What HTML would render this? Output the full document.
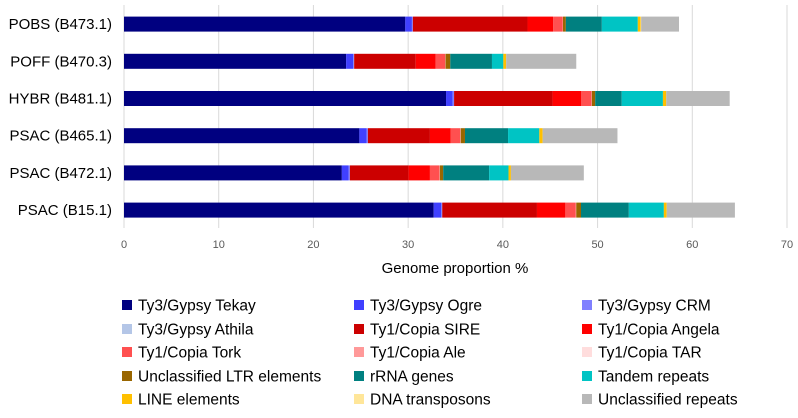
<!DOCTYPE html>
<html><head><meta charset="utf-8"><style>
body{margin:0;background:#fff;font-family:"Liberation Sans",sans-serif;}
svg text{font-family:"Liberation Sans",sans-serif;}
</style></head><body>
<svg id="chart" width="798" height="413" xmlns="http://www.w3.org/2000/svg"></svg>
<script>
const categories=["POBS (B473.1)","POFF (B470.3)","HYBR (B481.1)","PSAC (B465.1)","PSAC (B472.1)","PSAC (B15.1)"];
const seriesNames=["Ty3/Gypsy Tekay","Ty3/Gypsy Ogre","Ty3/Gypsy CRM","Ty3/Gypsy Athila","Ty1/Copia SIRE","Ty1/Copia Angela","Ty1/Copia Tork","Ty1/Copia Ale","Ty1/Copia TAR","Unclassified LTR elements","rRNA genes","Tandem repeats","LINE elements","DNA transposons","Unclassified repeats"];
const colors=["#000080","#4040ff","#8080ff","#b4c6e7","#cc0000","#ff0000","#ff5050","#ff9999","#ffdddd","#996600","#008080","#00c4c4","#ffc000","#ffe699","#b8b8b8"];
const tekay=[29.7,23.45,34.0,24.85,23.0,32.7];
const ogre=[0.7,0.75,0.7,0.75,0.7,0.8];
const crm=[0.1,0.1,0.15,0.15,0.15,0.1];
const athila=[0,0,0,0,0,0];
const sire=[12.1,6.5,10.4,6.55,6.2,10.0];
const angela=[2.7,2.1,3.0,2.2,2.25,3.0];
const tork=[1.0,1.0,1.1,1.0,1.0,1.1];
const ale=[0.05,0.05,0.05,0.05,0.05,0.05];
const tar=[0,0,0,0,0,0];
const ltr=[0.3,0.5,0.35,0.45,0.35,0.5];
const rrna=[3.8,4.4,2.8,4.55,4.85,5.05];
const tandem=[3.8,1.2,4.35,3.3,2.05,3.7];
const line=[0.3,0.3,0.35,0.35,0.25,0.3];
const dna=[0.05,0,0,0,0,0];
const unclass=[4.0,7.4,6.7,7.9,7.7,7.2];
const xTicks=[0,10,20,30,40,50,60,70];
const series=[tekay,ogre,crm,athila,sire,angela,tork,ale,tar,ltr,rrna,tandem,line,dna,unclass];

const svg=document.getElementById('chart');
const NS="http://www.w3.org/2000/svg";
const x0=124,x1=787,xmax=70;
const xs=v=>x0+(v/xmax)*(x1-x0);
const yTop=5,band=37.2;
const yc=i=>yTop+band*(i+0.5)+0.5;
function mk(t,a){const e=document.createElementNS(NS,t);for(const k in a)e.setAttribute(k,a[k]);svg.appendChild(e);return e;}
xTicks.forEach(t=>{
 const g=mk('line',{x1:xs(t),x2:xs(t),y1:yTop,y2:228,stroke:'#d9d9d9','stroke-width':1});
 
 
 const tx=mk('text',{x:xs(t),y:248,'text-anchor':'middle','font-size':11,fill:'#595959'});
 tx.textContent=t;
 
 
});
const at=mk('text',{x:455,y:273,'text-anchor':'middle','font-size':15,fill:'#000'});
at.textContent='Genome proportion %';


categories.forEach((c,i)=>{
 const lt=mk('text',{x:112,y:yc(i)+5,'text-anchor':'end','font-size':15,fill:'#000'});
 lt.textContent=c;
 
 
 let acc=0;
 series.forEach((s,j)=>{
  const v=s[i];
  if(v>0){
   const r=mk('rect',{x:xs(acc),y:yc(i)-7.5,width:xs(acc+v)-xs(acc),height:15,fill:colors[j]});
   
   
  }
  acc+=v;
 });
});
const colX=[122,354,582],rowY=[305,329,352,376,399];
seriesNames.forEach((n,k)=>{
 const cx=colX[k%3],cy=rowY[Math.floor(k/3)];
 const sq=mk('rect',{x:cx,y:cy-5,width:10,height:10,fill:colors[k]});
 
 
 const t=mk('text',{x:cx+16,y:cy+5.5,'font-size':15.5,fill:'#000'});
 t.textContent=n;
 
 
});
</script>
</body></html>
